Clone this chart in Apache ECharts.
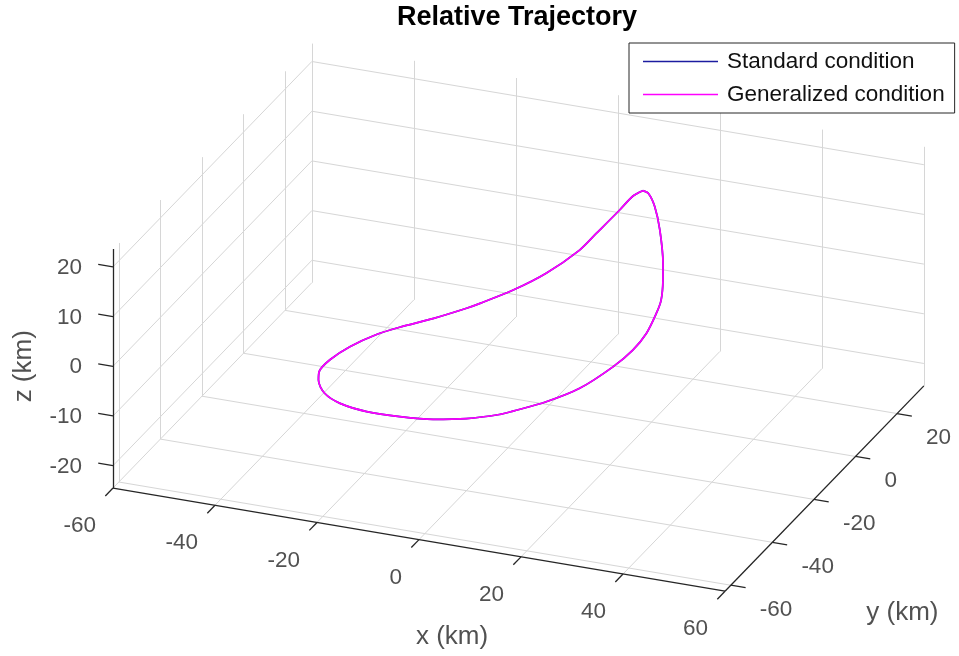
<!DOCTYPE html>
<html>
<head>
<meta charset="utf-8">
<script src="https://cdn.jsdelivr.net/npm/echarts@6/dist/echarts.min.js"></script>
<style>html,body{margin:0;padding:0;background:#fff}#c{width:959px;height:656px}</style>
</head>
<body>
<div id="c"></div>
<script>
// ---------------- data ----------------
const titleText = 'Relative Trajectory';
const seriesNames = ['Standard condition', 'Generalized condition'];
// relative trajectory (km)
const trajX = [16.6, 15.6, 14.9, 13.0, 11.2, 5.7, -1.0, -8.4, -11.5, -19.2, -26.9, -31.8, -36.5, -39.1, -39.7, -38.7, -35.9, -31.9, -25.9, -18.5, -10.7, -2.8, 5.2, 8.5, 16.3, 23.8, 30.2, 33.4, 35.0, 35.2, 34.8, 33.0, 31.1, 26.0, 21.5, 18.1];
const trajY = [4.1, 1.9, -2.8, -9.4, -13.0, -15.6, -15.0, -12.8, -11.7, -8.6, -6.1, -5.2, -6.5, -9.7, -13.4, -16.2, -20.1, -22.5, -24.4, -26.6, -29.8, -33.2, -36.9, -38.4, -41.6, -43.9, -43.6, -41.9, -39.3, -35.0, -31.7, -26.4, -21.7, -10.7, -2.1, 3.2];
const trajZ = [19.7, 19.4, 18.5, 16.3, 14.2, 9.7, 4.9, 0.0, -2.0, -6.7, -10.9, -13.6, -16.3, -18.0, -18.9, -19.2, -19.7, -20.0, -19.8, -18.6, -16.4, -13.4, -9.6, -7.7, -3.1, 1.9, 7.2, 10.4, 12.9, 15.1, 16.3, 17.7, 18.7, 19.8, 20.0, 19.8];
// the standard-condition curve coincides with the generalized one in the picture
const stdX = trajX.slice();
const stdY = trajY.slice();
const stdZ = trajZ.slice();

const xTicks = [-60, -40, -20, 0, 20, 40, 60];
const yTicks = [-60, -40, -20, 0, 20];
const zTicks = [-20, -10, 0, 10, 20];
const xLim = [-60, 60];
const yLim = [-62.8, 32.9];
const zLim = [-24.5, 23.6];
const axisTitles = ['x (km)', 'y (km)', 'z (km)'];

// ---------------- view (orthographic projection, layout) ----------------
const VIEW = { u0: 549.5, v0: 283.1, ex: [5.10, 0.86], ey: [2.078, -2.146], ez: [0, -4.97] };
function proj(x, y, z) {
  return [VIEW.u0 + VIEW.ex[0] * x + VIEW.ey[0] * y + VIEW.ez[0] * z,
          VIEW.v0 + VIEW.ex[1] * x + VIEW.ey[1] * y + VIEW.ez[1] * z];
}
const [x0, x1] = xLim, [y0, y1] = yLim, [z0, z1] = zLim;

// grid lines on the three back planes
const gridSegs = [];
xTicks.forEach(t => { gridSegs.push([proj(t, y0, z0), proj(t, y1, z0)]); gridSegs.push([proj(t, y1, z0), proj(t, y1, z1)]); });
yTicks.forEach(t => { gridSegs.push([proj(x0, t, z0), proj(x1, t, z0)]); gridSegs.push([proj(x0, t, z0), proj(x0, t, z1)]); });
zTicks.forEach(t => { gridSegs.push([proj(x0, y1, t), proj(x1, y1, t)]); gridSegs.push([proj(x0, y0, t), proj(x0, y1, t)]); });

// axis lines and tick marks
const axisSegs = [
  [proj(x0, y0, z0), proj(x1, y0, z0)],
  [proj(x1, y0, z0), proj(x1, y1, z0)],
  [proj(x0, y0, z0), proj(x0, y0, z1)]
];
xTicks.forEach(t => axisSegs.push([proj(t, y0, z0), proj(t, y0 - 3.7, z0)]));
yTicks.forEach(t => axisSegs.push([proj(x1, t, z0), proj(x1 + 2.9, t, z0)]));
zTicks.forEach(t => axisSegs.push([proj(x0, y0, t), proj(x0 - 2.9, y0, t)]));

// text labels
const FONT = '"Liberation Sans", Arial, Helvetica, sans-serif';
const labelItems = [];
function addLabel(pt, text, off, align, size, rotate) {
  labelItems.push({
    value: pt,
    label: { show: true, formatter: text, position: off, align: align, verticalAlign: 'middle',
             fontSize: size, fontFamily: FONT, color: '#262626', rotate: rotate || 0 }
  });
}
xTicks.forEach(t => addLabel(proj(t, y0, z0), String(t), [-17, 38], 'right', 22.5));
yTicks.forEach(t => addLabel(proj(x1, t, z0), String(t), [29, 24.5], 'left', 22.5));
zTicks.forEach(t => addLabel(proj(x0, y0, t), String(t), [-31, 1], 'right', 22.5));
addLabel(proj(0, y0, z0), axisTitles[0], [33, 97], 'center', 26);
addLabel(proj(x1, (y0 + y1) / 2, z0), axisTitles[1], [78, 124], 'center', 26);
addLabel(proj(x0, y0, 0), axisTitles[2], [-89, 0], 'center', 26, 90);

function curve(X, Y, Z) {
  const pts = X.map((x, i) => proj(x, Y[i], Z[i]));
  pts.push(pts[0]);
  return pts;
}

const chart = echarts.init(document.getElementById('c'), null, { renderer: 'canvas' });
chart.setOption({
  animation: false,
  backgroundColor: '#ffffff',
  grid: { left: 0, top: 0, right: 0, bottom: 0, containLabel: false },
  xAxis: { type: 'value', min: 0, max: 959, show: false },
  yAxis: { type: 'value', min: 0, max: 656, inverse: true, show: false },
  graphic: [{
    type: 'text', x: 517, y: 18,
    style: { text: titleText, fontSize: 27, fontWeight: 'bold', fontFamily: FONT, fill: '#000',
             align: 'center', verticalAlign: 'middle' }
  }],
  legend: {
    data: seriesNames.map(n => ({ name: n, icon: 'rect' })),
    orient: 'vertical',
    left: 629, top: 43,
    padding: [7, 10, 7, 14],
    itemGap: 10,
    itemWidth: 75, itemHeight: 1.6,
    borderColor: '#262626', borderWidth: 1,
    backgroundColor: '#ffffff',
    textStyle: { fontSize: 22.5, fontFamily: FONT, color: '#111', padding: [0, 0, 0, 4], lineHeight: 22 }
  },
  series: [
    { type: 'lines', name: 'grid', coordinateSystem: 'cartesian2d', silent: true, z: 1,
      lineStyle: { color: '#d6d6d6', width: 1, opacity: 1 },
      data: gridSegs.map(s => ({ coords: s })) },
    { type: 'lines', name: 'axes', coordinateSystem: 'cartesian2d', silent: true, z: 2,
      lineStyle: { color: '#262626', width: 1.3, opacity: 1 },
      data: axisSegs.map(s => ({ coords: s })) },
    { type: 'scatter', name: 'labels', silent: true, symbolSize: 0, z: 3, data: labelItems },
    { type: 'line', name: seriesNames[0], symbol: 'none', smooth: 0.3, z: 4,
      lineStyle: { color: '#1c1ca0', width: 1.7 }, itemStyle: { color: '#1c1ca0' },
      data: curve(stdX, stdY, stdZ) },
    { type: 'line', name: seriesNames[1], symbol: 'none', smooth: 0.3, z: 5,
      lineStyle: { color: '#ff00ff', width: 1.7 }, itemStyle: { color: '#ff00ff' },
      data: curve(trajX, trajY, trajZ) }
  ]
});
</script>
</body>
</html>
